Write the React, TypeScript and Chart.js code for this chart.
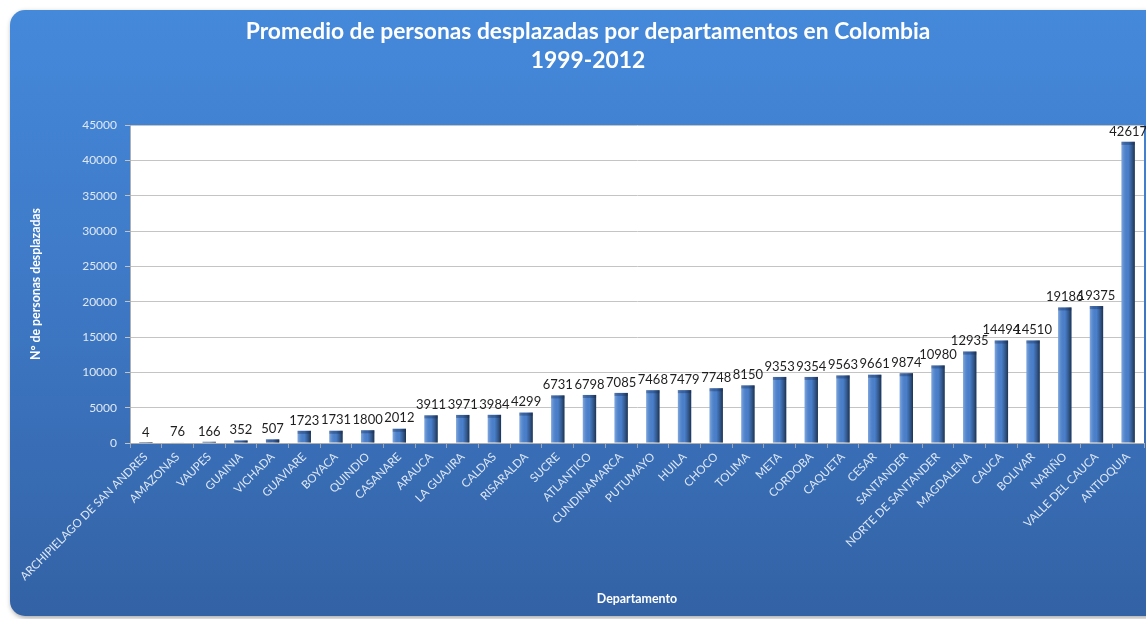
import React, { useEffect, useRef } from 'react';
import { Chart, registerables } from 'chart.js';

Chart.register(...registerables);

const departamentos: string[] = [
  'ARCHIPIELAGO DE SAN ANDRES', 'AMAZONAS', 'VAUPES', 'GUAINIA', 'VICHADA', 'GUAVIARE', 'BOYACA',
  'QUINDIO', 'CASANARE', 'ARAUCA', 'LA GUAJIRA', 'CALDAS', 'RISARALDA', 'SUCRE', 'ATLANTICO',
  'CUNDINAMARCA', 'PUTUMAYO', 'HUILA', 'CHOCO', 'TOLIMA', 'META', 'CORDOBA', 'CAQUETA', 'CESAR',
  'SANTANDER', 'NORTE DE SANTANDER', 'MAGDALENA', 'CAUCA', 'BOLIVAR', 'NARIÑO', 'VALLE DEL CAUCA',
  'ANTIOQUIA',
];

const personas: number[] = [
  4, 76, 166, 352, 507, 1723, 1731, 1800, 2012, 3911, 3971, 3984, 4299, 6731, 6798, 7085, 7468,
  7479, 7748, 8150, 9353, 9354, 9563, 9661, 9874, 10980, 12935, 14494, 14510, 19186, 19375, 42617,
];

const tituloLineas: string[] = ['Promedio de personas desplazadas por departamentos en Colombia', '1999-2012'];
const tituloEjeY = 'N° de personas desplazadas';
const tituloEjeX = 'Departamento';

const FONT = 'Lato, "Open Sans", sans-serif';

const cardPlugin = {
  id: 'card',
  beforeDraw(chart: any) {
    const { ctx, chartArea } = chart;
    ctx.save();
    ctx.shadowColor = 'rgba(0,0,0,0.35)';
    ctx.shadowBlur = 5;
    ctx.shadowOffsetX = 1;
    ctx.shadowOffsetY = 2;
    const g = ctx.createLinearGradient(0, 10, 0, 617);
    g.addColorStop(0, '#4589DB');
    g.addColorStop(0.45, '#3E79C6');
    g.addColorStop(1, '#3362A5');
    ctx.fillStyle = g;
    ctx.beginPath();
    ctx.roundRect(10, 10, 1200, 606, 15);
    ctx.fill();
    ctx.restore();
    ctx.save();
    ctx.fillStyle = '#ffffff';
    ctx.fillRect(chartArea.left, chartArea.top, chartArea.right - chartArea.left, chartArea.bottom - chartArea.top);
    ctx.restore();
  },
  afterDraw(chart: any) {
    const { ctx } = chart;
    ctx.save();
    ctx.font = `bold 22.8px ${FONT}`;
    ctx.fillStyle = '#ffffff';
    ctx.textAlign = 'center';
    ctx.textBaseline = 'middle';
    tituloLineas.forEach((t, i) => ctx.fillText(t, 588, 32 + i * 28.5));
    ctx.restore();
  },
};

const barShadePlugin = {
  id: 'barShade',
  afterDatasetsDraw(chart: any) {
    const { ctx } = chart;
    const meta = chart.getDatasetMeta(0);
    ctx.save();
    meta.data.forEach((bar: any) => {
      const { x, y, base, width } = bar.getProps(['x', 'y', 'base', 'width'], true);
      const l = x - width / 2;
      const g = ctx.createLinearGradient(l, 0, l + width, 0);
      g.addColorStop(0, 'rgba(255,255,255,0.30)');
      g.addColorStop(0.18, 'rgba(255,255,255,0.10)');
      g.addColorStop(0.5, 'rgba(0,0,0,0)');
      g.addColorStop(0.78, 'rgba(0,0,0,0.30)');
      g.addColorStop(1, 'rgba(0,0,0,0.6)');
      ctx.fillStyle = g;
      ctx.fillRect(l, y, width, base - y);
      const h = Math.min(3, base - y);
      ctx.fillStyle = 'rgba(20,40,80,0.35)';
      ctx.fillRect(l, y, width, h);
    });
    ctx.restore();

    ctx.save();
    ctx.font = `13px ${FONT}`;
    ctx.fillStyle = '#1e1e1e';
    ctx.textAlign = 'center';
    ctx.textBaseline = 'bottom';
    meta.data.forEach((bar: any, i: number) => {
      const { x, y } = bar.getProps(['x', 'y'], true);
      ctx.fillText(String(personas[i]), x, y - 4);
    });
    ctx.restore();
  },
};

export default function App() {
  const ref = useRef<HTMLCanvasElement | null>(null);

  useEffect(() => {
    if (!ref.current) return;
    const chart = new Chart(ref.current, {
      type: 'bar',
      data: {
        labels: departamentos,
        datasets: [
          {
            data: personas,
            backgroundColor: '#4A80CC',
            borderWidth: 0,
            barPercentage: 0.42,
            categoryPercentage: 1,
          },
        ],
      },
      plugins: [cardPlugin, barShadePlugin],
      options: {
        responsive: false,
        animation: false,
        layout: { padding: { left: 0, right: 2, top: 125, bottom: 0 } },
        plugins: {
          legend: { display: false },
          tooltip: { enabled: false },
          title: { display: false },
        },
        scales: {
          x: {
            offset: true,
            grid: {
              display: true,
              drawOnChartArea: false,
              drawTicks: true,
              tickLength: 5,
              color: '#9aa6b8',
              offset: true,
            },
            border: { display: true, color: '#b0b0b0' },
            ticks: {
              autoSkip: false,
              maxRotation: 45,
              minRotation: 45,
              color: '#dfe8f5',
              padding: 2,
              font: { family: FONT, size: 11.5 },
            },
            title: {
              display: true,
              text: tituloEjeX,
              color: '#ffffff',
              font: { family: FONT, size: 12.4, weight: 'bold' },
              padding: { top: 4, bottom: 13 },
            },
            afterFit: (scale: any) => {
              scale.height = 176;
            },
          },
          y: {
            min: 0,
            max: 45000,
            ticks: {
              stepSize: 5000,
              color: '#dfe8f5',
              padding: 8,
              font: { family: FONT, size: 12 },
              callback: (v: any) => String(v),
            },
            grid: {
              color: '#c4c4c4',
              tickLength: 5,
              lineWidth: 1,
            },
            border: { display: true, color: '#b0b0b0' },
            title: {
              display: true,
              text: tituloEjeY,
              color: '#ffffff',
              font: { family: FONT, size: 12.3, weight: 'bold' },
              padding: { top: 29, bottom: 4 },
            },
            afterFit: (scale: any) => {
              scale.width = 130;
            },
          },
        },
      },
    });
    return () => chart.destroy();
  }, []);

  return (
    <div style={{ position: 'fixed', left: 0, top: 0, width: 1146, height: 619, background: '#fff' }}>
      <canvas ref={ref} width={1146} height={619} style={{ display: 'block' }} />
    </div>
  );
}
